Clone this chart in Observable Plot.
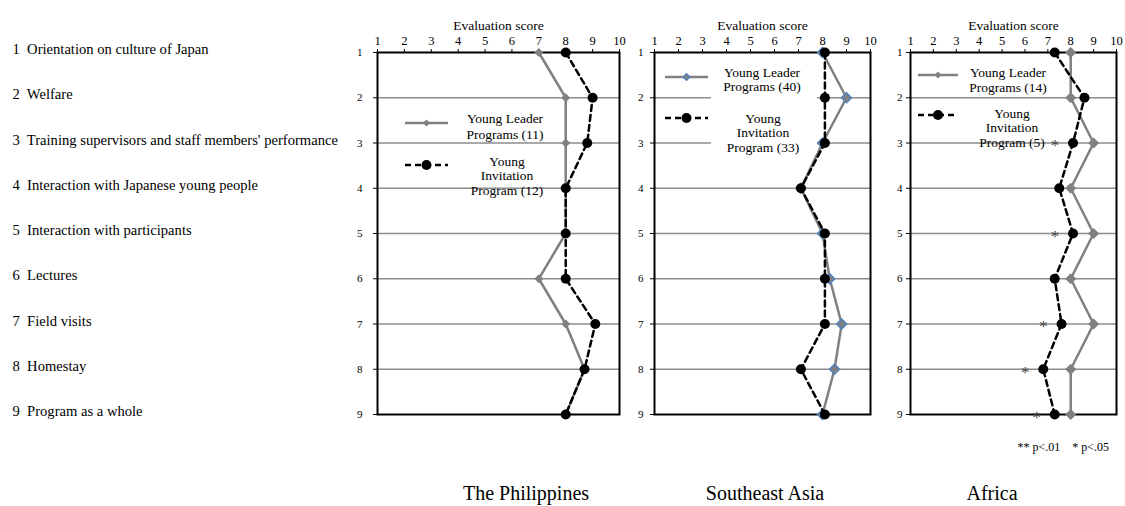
<!DOCTYPE html>
<html><head><meta charset="utf-8">
<script src="https://cdn.jsdelivr.net/npm/d3@7"></script>
<script src="https://cdn.jsdelivr.net/npm/@observablehq/plot@0.6"></script>
<style>
body{margin:0;background:#fff;}
#wrap{position:relative;width:1125px;height:506px;overflow:hidden;font-family:"Liberation Serif","Times New Roman",serif;}
#wrap svg{position:absolute;top:0;}
</style></head><body><div id="wrap"></div>
<script>
// ---- data ----
const items = [
  "1  Orientation on culture of Japan",
  "2  Welfare",
  "3  Training supervisors and staff members' performance",
  "4  Interaction with Japanese young people",
  "5  Interaction with participants",
  "6  Lectures",
  "7  Field visits",
  "8  Homestay",
  "9  Program as a whole"
];
const rows = [1,2,3,4,5,6,7,8,9];
const xTicks = [1,2,3,4,5,6,7,8,9,10];
const regions = ["The Philippines", "Southeast Asia", "Africa"];
const ylNames = ["Young Leader Programs (11)", "Young Leader Programs (40)", "Young Leader Programs (14)"];
const yipNames = ["Young Invitation Program (12)", "Young Invitation Program (33)", "Young Invitation Program (5)"];
const phYL  = [7, 8, 8, 8, 8, 7, 8, 8.7, 8];
const phYIP = [8, 9, 8.8, 8, 8, 8, 9.1, 8.7, 8];
const seYL  = [8, 9, 8, 7.1, 8, 8.3, 8.8, 8.5, 8];
const seYIP = [8.1, 8.1, 8.1, 7.1, 8.1, 8.1, 8.1, 7.1, 8.1];
const afYL  = [8, 8, 9, 8, 9, 8, 9, 8, 8];
const afYIP = [7.3, 8.6, 8.1, 7.5, 8.1, 7.3, 7.6, 6.8, 7.3];
const afSig = ["", "", "*", "", "*", "", "*", "*", "*"];
const sigNote = "** p<.01    * p<.05";

// ---- layout ----
const H = 506, MT = 52, MB = 92;
const panels = [
  {left: 0,   width: 625, ml: 377, mr: 6, yl: phYL, yip: phYIP, diaStroke: "none", diaR: 4, tp: 11,
   leg: {lx1: 405, lx2: 448, ly1: 123, ly2: 165, tx1: 505, tx2: 507, ty1: [118, 134], ty2: [161, 175, 190], box: null}},
  {left: 625, width: 250, ml: 29, mr: 5, yl: seYL, yip: seYIP, diaStroke: "#4f81bd", diaR: 4.5, tp: 7,
   leg: {lx1: 665, lx2: 708, ly1: 77, ly2: 118, tx1: 762, tx2: 763, ty1: [72, 86], ty2: [118, 132, 147], box: [711, 60, 817, 153]}},
  {left: 880, width: 245, ml: 30, mr: 9, yl: afYL, yip: afYIP, diaStroke: "none", diaR: 5, tp: 4,
   leg: {lx1: 918, lx2: 958, ly1: 75, ly2: 115, tx1: 1008, tx2: 1012, ty1: [72, 87], ty2: [113, 127, 142], box: null}}
];

const wrap = document.getElementById("wrap");
const FONT = "Liberation Serif";

panels.forEach((p, i) => {
  const data = rows.map((r, k) => ({row: r, label: items[k], yl: p.yl[k], yip: p.yip[k], sig: i === 2 ? afSig[k] : ""}));
  const marks = [
    Plot.ruleY(rows.slice(1, 8), {stroke: "#8c8c8c", strokeWidth: 1.5}),
    Plot.frame({stroke: "#000", strokeWidth: 2}),
    Plot.axisX({anchor: "top", ticks: xTicks, tickSize: 4, tickPadding: 4, fontSize: 12.5, label: null, tickFormat: d => String(d)}),
    Plot.axisY({anchor: "left", ticks: rows, tickSize: 4, tickPadding: p.tp, fontSize: 11, label: null, tickFormat: d => String(d)}),
    Plot.text(["Evaluation score"], {frameAnchor: "top", dy: -32, fontSize: 13.5, fill: "#000"}),
    Plot.line(data, {x: "yl", y: "row", stroke: "#808080", strokeWidth: 2.5}),
    Plot.dot(data, {x: "yl", y: "row", symbol: "diamond2", r: p.diaR, fill: "#808080", stroke: p.diaStroke, strokeWidth: 1.5}),
    Plot.line(data, {x: "yip", y: "row", stroke: "#000", strokeWidth: 2.5, strokeDasharray: "6,4"}),
    Plot.dot(data, {x: "yip", y: "row", r: 5, fill: "#000"})
  ];
  if (i === 0) {
    marks.push(Plot.text(data, {y: "row", text: "label", frameAnchor: "left", dx: -(p.ml - 12), dy: -3, textAnchor: "start", fontSize: 14.6, fill: "#000"}));
  }
  if (i === 2) {
    marks.push(Plot.text(data, {x: "yip", y: "row", text: "sig", dx: -18, dy: 3, fontSize: 17, fill: "#444"}));
  }
  const svg = Plot.plot({
    width: p.width, height: H,
    marginLeft: p.ml, marginRight: p.mr, marginTop: MT, marginBottom: MB,
    x: {domain: [1, 10]},
    y: {domain: [1, 9], reverse: true},
    style: {fontFamily: FONT, background: "transparent", color: "#000", overflow: "visible"},
    marks
  });
  svg.style.left = p.left + "px";
  wrap.appendChild(svg);

  // legend (decoration)
  const s = d3.select(svg);
  const g = s.append("g").attr("font-family", FONT).attr("font-size", 13.5).attr("text-anchor", "middle").attr("fill", "#000");
  const o = p.left, L = p.leg;
  if (L.box) {
    g.append("rect").attr("x", L.box[0] - o).attr("y", L.box[1]).attr("width", L.box[2] - L.box[0]).attr("height", L.box[3] - L.box[1]).attr("fill", "#fff");
  }
  g.append("line").attr("x1", L.lx1 - o).attr("x2", L.lx2 - o).attr("y1", L.ly1).attr("y2", L.ly1).attr("stroke", "#808080").attr("stroke-width", 2.5);
  const dc = (L.lx1 + L.lx2) / 2 - o;
  g.append("path").attr("d", d3.symbol(d3.symbolDiamond2, 30)()).attr("transform", `translate(${dc},${L.ly1})`).attr("fill", "#808080").attr("stroke", p.diaStroke).attr("stroke-width", 1.2);
  g.append("line").attr("x1", L.lx1 - o).attr("x2", L.lx2 - o).attr("y1", L.ly2).attr("y2", L.ly2).attr("stroke", "#000").attr("stroke-width", 2.5).attr("stroke-dasharray", "6,4");
  g.append("circle").attr("cx", dc).attr("cy", L.ly2).attr("r", 5).attr("fill", "#000");
  const n1 = ylNames[i].split(" ");
  const lines1 = [n1.slice(0, 2).join(" "), n1.slice(2).join(" ")];
  lines1.forEach((t, k) => g.append("text").attr("x", L.tx1 - o).attr("y", L.ty1[k]).attr("dy", "0.35em").text(t));
  const n2 = yipNames[i].split(" ");
  const lines2 = [n2[0], n2[1], n2.slice(2).join(" ")];
  lines2.forEach((t, k) => g.append("text").attr("x", L.tx2 - o).attr("y", L.ty2[k]).attr("dy", "0.35em").text(t));

  // region title below
  const cx = [526, 765, 992][i] - o;
  s.append("text").attr("x", cx).attr("y", 500).attr("text-anchor", "middle").attr("font-family", FONT).attr("font-size", 20).attr("fill", "#000").text(regions[i]);
  if (i === 2) {
    s.append("text").attr("x", 1109 - o).attr("y", 447).attr("dy", "0.35em").attr("text-anchor", "end").attr("font-family", FONT).attr("font-size", 12).attr("fill", "#000").style("white-space", "pre").text(sigNote);
  }
});
</script></body></html>
